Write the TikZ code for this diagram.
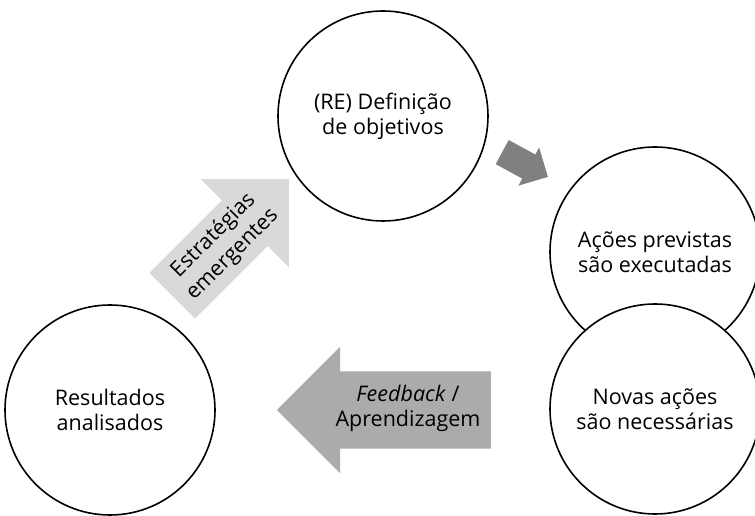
\documentclass[tikz,border=0pt]{standalone}
\usepackage{fontspec}
\setmainfont{Open Sans}
\usetikzlibrary{shapes.arrows}
\definecolor{setaescura}{HTML}{808080}
\definecolor{setaclara}{HTML}{D9D9D9}
\definecolor{setamedia}{HTML}{ABABAB}
\tikzset{
  etapa/.style={circle,draw,line width=1.6pt,fill=white,minimum size=210pt,inner sep=0pt,align=center,font=\fontsize{21.5}{25}\selectfont},
  rotulo/.style={align=center,font=\fontsize{21.5}{25}\selectfont},
  seta/.style n args={3}{single arrow,inner xsep=0pt,inner ysep=#1,single arrow head extend=#2,minimum height=#3}
}
\begin{document}
\begin{tikzpicture}[x=1pt,y=1pt]
    \useasboundingbox (0,0) rectangle (755,516);
    \node[etapa] (definicao) at (383,400) {(RE) Definição\\de objetivos};
    \node[etapa] (acoes) at (655,264) {Ações previstas\\são executadas};
    \node[etapa] (novas) at (655,107) {Novas ações\\são necessárias};
    \node[etapa] (resultados) at (110,106) {Resultados\\analisados};
    \node[seta={13.5pt}{8pt}{52pt},fill=setaescura,rotate=-28.5,anchor=tail] (avanco) at (502,364) {};
    \node[seta={32pt}{30pt}{165pt},fill=setaclara,rotate=45,anchor=tail] (estrategias) at (172,220) {};
    \node[rotulo,rotate=45,font=\fontsize{21.5}{27}\selectfont] (estrategiastxt) at (223,271) {Estratégias\\emergentes};
    \node[seta={38.5pt}{24.5pt}{214pt},fill=setamedia,rotate=180,anchor=tail] (feedback) at (491,106) {};
    \node[rotulo] (feedbacktxt) at (408,107.5) {\textit{Feedback} /\\Aprendizagem};
\end{tikzpicture}
\end{document}
